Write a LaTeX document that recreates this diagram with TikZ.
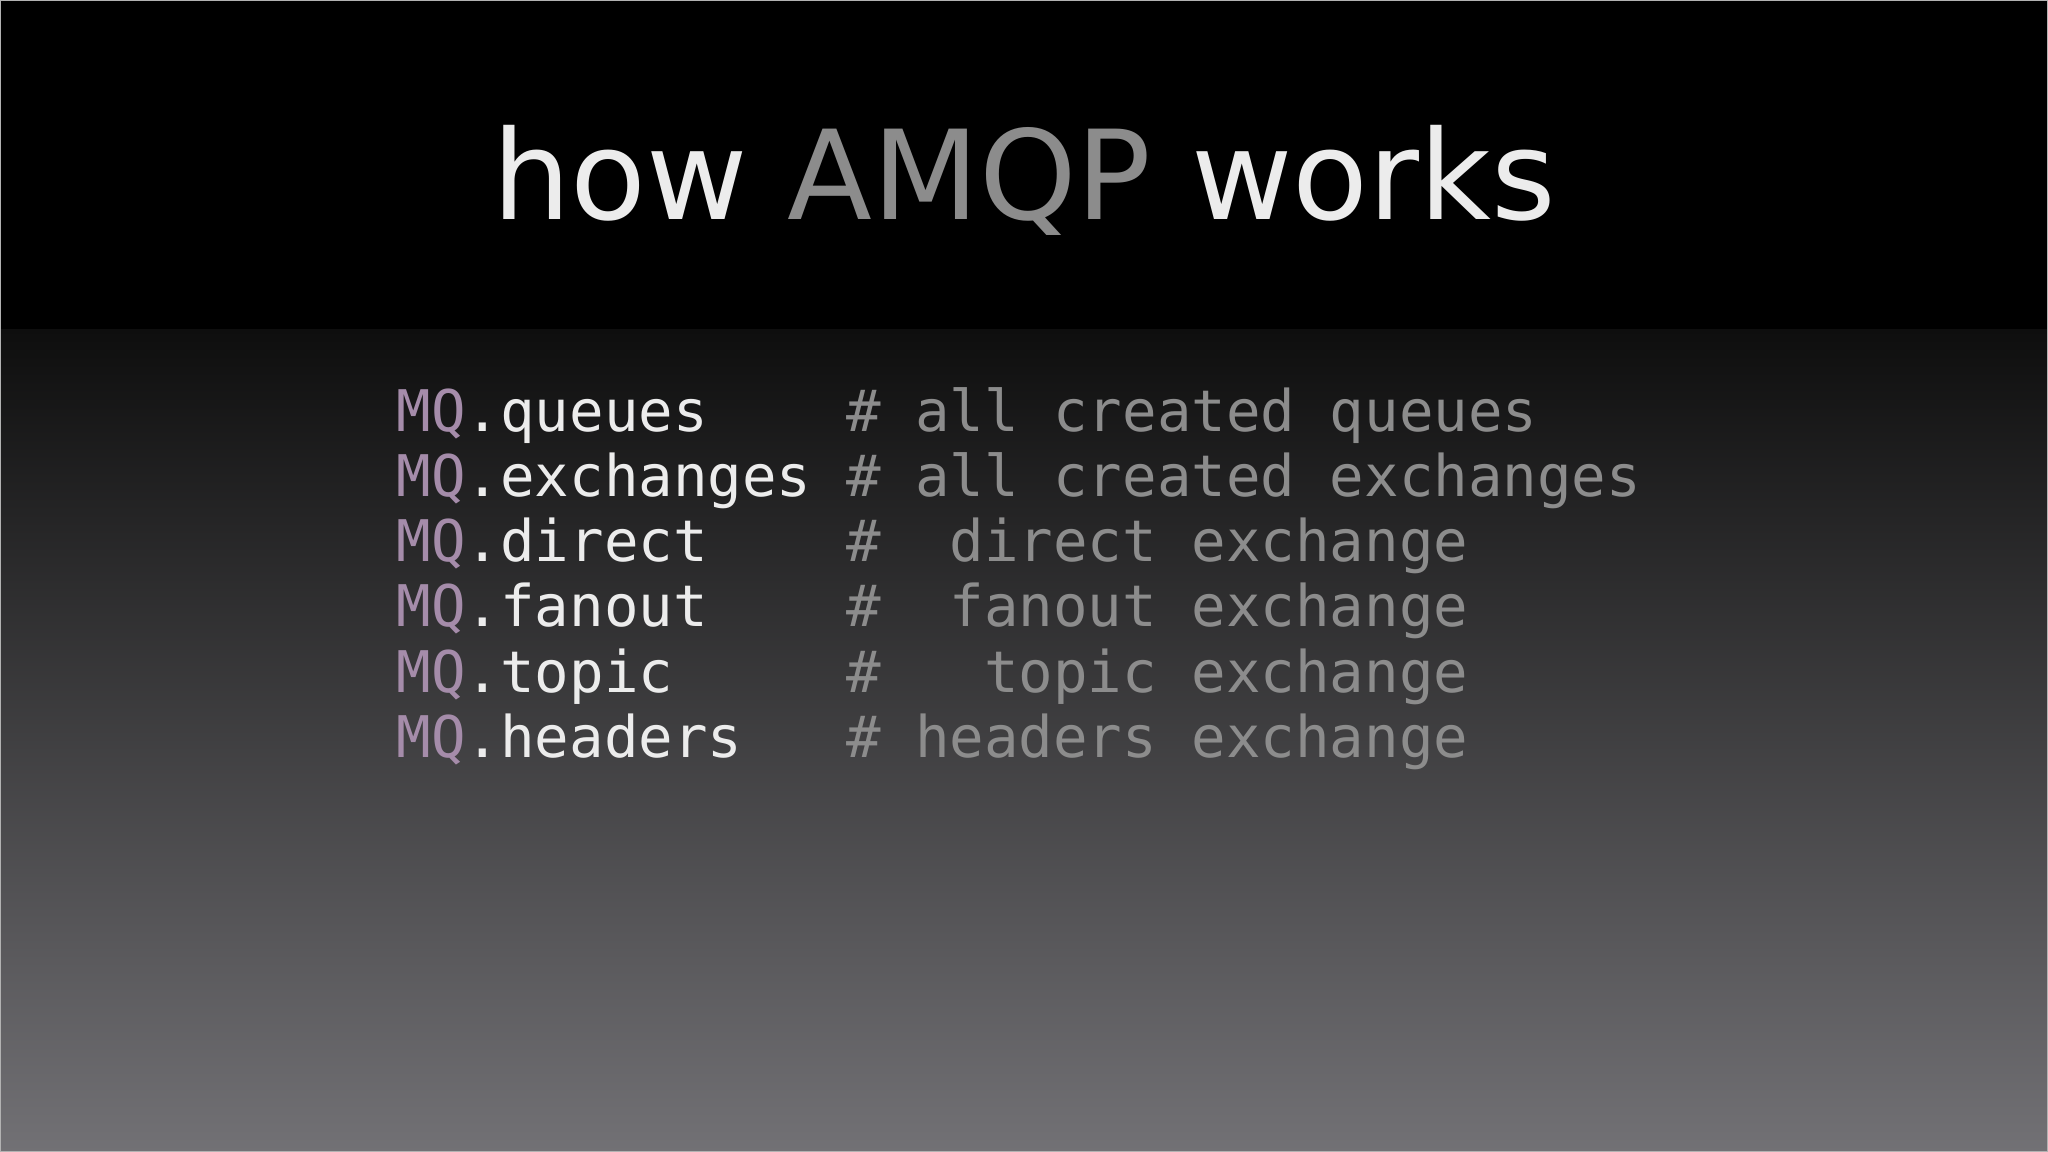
\documentclass[tikz,border=0pt]{standalone}
\usepackage{fontspec}
\setmainfont{DejaVu Sans}
\setmonofont{DejaVu Sans Mono}
\definecolor{txt}{RGB}{236,236,236}
\definecolor{dim}{RGB}{140,140,140}
\definecolor{mq}{RGB}{165,140,170}
\definecolor{bgtop}{RGB}{14,14,14}
\definecolor{bgbot}{RGB}{114,113,117}
\tikzset{codeline/.style={anchor=base west,inner sep=0pt,font=\ttfamily\fontsize{12.5}{14}\selectfont,text=txt},
title/.style={anchor=base,inner sep=0pt,font=\fontsize{27}{32}\selectfont,text=txt}}
\newcommand{\cm}[1]{\textcolor{dim}{#1}}
\newcommand{\mqp}{\textcolor{mq}{MQ}}
\begin{document}
\begin{tikzpicture}[x=0.01cm,y=-0.01cm]
\useasboundingbox (0,0) rectangle (1568,882);
\fill[black] (0,0) rectangle (1568,882);
\shade[top color=bgtop,bottom color=bgbot] (0,252) rectangle (1568,882);
\draw[gray!60,line width=0.6pt] (0,0) rectangle (1568,882);
\node[title] (t) at (784,168) {how \textcolor{dim}{AMQP} works};
\node[codeline] (l1) at (303,330) {\mqp.queues\ \ \ \ \cm{\#\ all\ created\ queues}};
\node[codeline] (l2) at (303,380) {\mqp.exchanges\ \cm{\#\ all\ created\ exchanges}};
\node[codeline] (l3) at (303,430) {\mqp.direct\ \ \ \ \cm{\#\ \ direct\ exchange}};
\node[codeline] (l4) at (303,480) {\mqp.fanout\ \ \ \ \cm{\#\ \ fanout\ exchange}};
\node[codeline] (l5) at (303,530) {\mqp.topic\ \ \ \ \ \cm{\#\ \ \ topic\ exchange}};
\node[codeline] (l6) at (303,580) {\mqp.headers\ \ \ \cm{\#\ headers\ exchange}};
\end{tikzpicture}
\end{document}
